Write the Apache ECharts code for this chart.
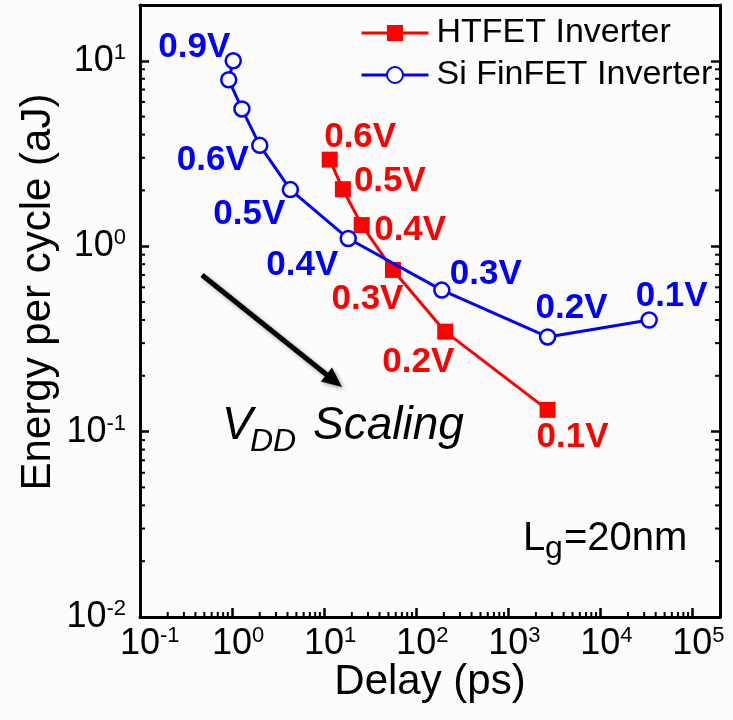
<!DOCTYPE html>
<html><head><meta charset="utf-8">
<script src="https://cdn.jsdelivr.net/npm/echarts@6/dist/echarts.min.js"></script>
<style>html,body{margin:0;padding:0;background:#fcfcfc}#c{width:733px;height:720px}</style>
</head><body><div id="c"></div>
<script>
// ---- data ----
const finfetDelay  = [1.03, 0.92, 1.28, 2.0, 4.3, 18.3, 190, 2680, 34000];
const finfetEnergy = [10.0, 7.9, 5.5, 3.5, 2.02, 1.10, 0.58, 0.324, 0.40];
const finfetVdd    = ['0.9V','0.8V','0.7V','0.6V','0.5V','0.4V','0.3V','0.2V','0.1V'];
const htfetDelay   = [11.5, 16.0, 25.6, 56, 207, 2680];
const htfetEnergy  = [2.93, 2.03, 1.30, 0.745, 0.346, 0.131];
const htfetVdd     = ['0.6V','0.5V','0.4V','0.3V','0.2V','0.1V'];
const xTickValues  = [0.1, 1, 10, 100, 1000, 10000, 100000];
const yTickValues  = [0.01, 0.1, 1, 10];

// ---- styling ----
const FONT = 'Liberation Sans, Arial, sans-serif';
const X_MIN = 0.1, X_MAX = 2e5, Y_MIN = 0.01, Y_MAX = 20;
const finfetLabelOffset = [[-39,-13.5], null, null, [-47,15], [-41,25], [-46,27], [44,-15.5], [24,-28.5], [22.5,-23.5]];
const htfetLabelOffset  = [[30.5,-22], [47,-7.5], [48.5,5.5], [-25.5,29.5], [-27,30.5], [25,27]];

function isTick(v, list){ return list.some(t => Math.abs(Math.log10(v) - Math.log10(t)) < 1e-6); }
function expOf(v){ return Math.round(Math.log10(v)); }

const minorX = [], minorY = [];
for (let k = -1; k <= 4; k++) for (let m = 2; m <= 9; m++) minorX.push(m * Math.pow(10, k));
for (let k = -2; k <= 0; k++) for (let m = 2; m <= 9; m++) minorY.push(m * Math.pow(10, k));

function pts(xs, ys, labels, offs){
  return xs.map((x, i) => {
    const o = { value: [x, ys[i]] };
    if (offs[i]) o.label = { show: true, formatter: labels[i], offset: offs[i] };
    return o;
  });
}

const richTick = {
  b: { fontSize: 36, fontFamily: FONT, color: '#000', lineHeight: 38 },
  s: { fontSize: 22, fontFamily: FONT, color: '#000', verticalAlign: 'top', lineHeight: 22 },
  h: { fontSize: 22, fontFamily: FONT, color: 'rgba(0,0,0,0)', verticalAlign: 'top', lineHeight: 22 }
};
const axisLineStyle = { show: true, lineStyle: { color: '#000', width: 3 } };

const option = {
  backgroundColor: '#fcfcfc',
  animation: false,
  grid: { left: 140, right: 13, top: 5, bottom: 103 },
  legend: {
    data: ['HTFET Inverter', 'Si FinFET Inverter'],
    orient: 'vertical', left: 360, top: 16, padding: 0,
    itemWidth: 67, itemHeight: 20, itemGap: 8,
    selectedMode: false,
    lineStyle: { width: 3 },
    textStyle: { fontSize: 34, fontFamily: FONT, color: '#000', lineHeight: 34, padding: [0,0,0,3] }
  },
  xAxis: [
    { type: 'log', logBase: 10, min: X_MIN, max: X_MAX, splitNumber: 6, position: 'bottom',
      axisLine: axisLineStyle,
      axisTick: { show: true, inside: true, length: 9, lineStyle: { color: '#000', width: 2.5 } },
      splitLine: { show: false },
      axisLabel: { margin: 8, showMaxLabel: false, rich: richTick,
        formatter: v => isTick(v, xTickValues) ? '{h|' + expOf(v) + '}{b|10}{s|' + expOf(v) + '}' : '' } },
    { type: 'log', logBase: 10, min: X_MIN, max: X_MAX, position: 'top',
      axisLine: axisLineStyle, axisTick: { show: false }, axisLabel: { show: false }, splitLine: { show: false } }
  ],
  yAxis: [
    { type: 'log', logBase: 10, min: Y_MIN, max: Y_MAX, splitNumber: 3, position: 'left',
      axisLine: axisLineStyle,
      axisTick: { show: true, inside: true, length: 9, lineStyle: { color: '#000', width: 2.5 } },
      splitLine: { show: false },
      axisLabel: { margin: 14, showMaxLabel: false, rich: richTick,
        formatter: v => isTick(v, yTickValues) ? '{b|10}{s|' + expOf(v) + '}' : '' } },
    { type: 'log', logBase: 10, min: Y_MIN, max: Y_MAX, splitNumber: 3, position: 'right',
      axisLine: axisLineStyle,
      axisTick: { show: true, inside: true, length: 9, lineStyle: { color: '#000', width: 2.5 } },
      axisLabel: { show: false }, splitLine: { show: false } }
  ],
  series: [
    { type: 'custom', silent: true, xAxisIndex: 0, yAxisIndex: 0, z: 1,
      data: minorX.map(v => [v, Y_MIN]),
      renderItem: (p, api) => {
        const c = api.coord([api.value(0), api.value(1)]);
        return { type: 'line', shape: { x1: c[0], y1: c[1], x2: c[0], y2: c[1] - 5 }, style: { stroke: '#000', lineWidth: 2 } };
      } },
    { type: 'custom', silent: true, xAxisIndex: 0, yAxisIndex: 0, z: 1,
      data: minorY.map(v => [X_MIN, v]),
      renderItem: (p, api) => {
        const l = api.coord([X_MIN, api.value(1)]);
        const r = api.coord([X_MAX, api.value(1)]);
        return { type: 'group', children: [
          { type: 'line', shape: { x1: l[0], y1: l[1], x2: l[0] + 5, y2: l[1] }, style: { stroke: '#000', lineWidth: 2 } },
          { type: 'line', shape: { x1: r[0], y1: r[1], x2: r[0] - 5, y2: r[1] }, style: { stroke: '#000', lineWidth: 2 } }
        ] };
      } },
    { name: 'HTFET Inverter', type: 'line', z: 3,
      data: pts(htfetDelay, htfetEnergy, htfetVdd, htfetLabelOffset),
      symbol: 'rect', symbolSize: 16,
      lineStyle: { color: '#ff0000', width: 3 },
      itemStyle: { color: '#ff0000' },
      emphasis: { disabled: true },
      label: { show: false, position: 'inside', align: 'center', verticalAlign: 'middle',
        fontSize: 35, fontWeight: 'bold', fontFamily: FONT, color: '#ff0000' } },
    { name: 'Si FinFET Inverter', type: 'line', z: 4,
      data: pts(finfetDelay, finfetEnergy, finfetVdd, finfetLabelOffset),
      symbol: 'circle', symbolSize: 15,
      lineStyle: { color: '#0000ff', width: 3 },
      itemStyle: { color: '#ffffff', borderColor: '#0000ff', borderWidth: 2.5 },
      emphasis: { disabled: true },
      label: { show: false, position: 'inside', align: 'center', verticalAlign: 'middle',
        fontSize: 35, fontWeight: 'bold', fontFamily: FONT, color: '#0000ff' } }
  ],
  graphic: [
    { type: 'text', x: 38, y: 292, rotation: Math.PI / 2,
      style: { text: 'Energy per cycle (aJ)', font: '42px ' + FONT, fill: '#000', align: 'center', verticalAlign: 'middle' } },
    { type: 'text', x: 430, y: 682,
      style: { text: 'Delay (ps)', font: '42px ' + FONT, fill: '#000', align: 'center', verticalAlign: 'middle' } },
    { type: 'text', x: 222, y: 426.5,
      style: { text: 'V', font: 'italic 46px ' + FONT, fill: '#000', align: 'left', verticalAlign: 'middle' } },
    { type: 'text', x: 250, y: 442.5,
      style: { text: 'DD', font: 'italic 32px ' + FONT, fill: '#000', align: 'left', verticalAlign: 'middle' } },
    { type: 'text', x: 313, y: 426.5,
      style: { text: 'Scaling', font: 'italic 46px ' + FONT, fill: '#000', align: 'left', verticalAlign: 'middle' } },
    { type: 'text', x: 523, y: 539,
      style: { text: 'L', font: '40px ' + FONT, fill: '#000', align: 'left', verticalAlign: 'middle' } },
    { type: 'text', x: 545, y: 549,
      style: { text: 'g', font: '32px ' + FONT, fill: '#000', align: 'left', verticalAlign: 'middle' } },
    { type: 'text', x: 564, y: 539,
      style: { text: '=20nm', font: '40px ' + FONT, fill: '#000', align: 'left', verticalAlign: 'middle' } },
    { type: 'group', children: [
      { type: 'line', shape: { x1: 202, y1: 275, x2: 327, y2: 375 },
        style: { stroke: '#000', lineWidth: 5, shadowBlur: 4, shadowColor: 'rgba(0,0,0,0.35)', shadowOffsetX: 2, shadowOffsetY: 2 } },
      { type: 'polygon', shape: { points: [[342, 387], [320.8, 381.5], [332.0, 367.5]] },
        style: { fill: '#000', shadowBlur: 4, shadowColor: 'rgba(0,0,0,0.35)', shadowOffsetX: 2, shadowOffsetY: 2 } }
    ] }
  ]
};
const chart = echarts.init(document.getElementById('c'));
chart.setOption(option);
</script></body></html>
